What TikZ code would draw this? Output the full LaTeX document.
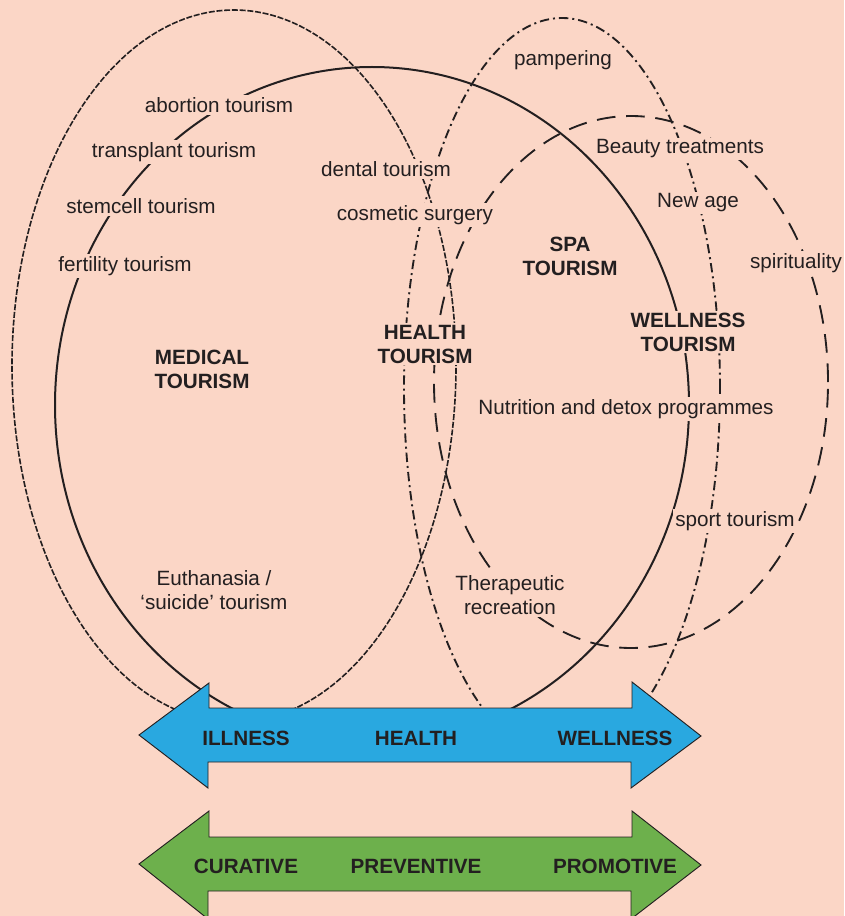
\documentclass[tikz,border=0pt]{standalone}
\usepackage{fontspec}
\setmainfont{Liberation Sans}
\definecolor{bgpeach}{RGB}{251,214,198}
\definecolor{inkdark}{RGB}{35,31,32}
\definecolor{arrowblue}{RGB}{41,168,224}
\definecolor{arrowgreen}{RGB}{109,176,76}
\tikzset{
  lbl/.style={fill=bgpeach, text=inkdark, inner sep=1.5pt, align=center,
    font=\fontsize{15.5}{18}\selectfont},
  blbl/.style={lbl, font=\fontsize{15.5}{18}\selectfont\bfseries},
  alabel/.style={text=inkdark, inner sep=0pt, font=\fontsize{15.5}{18}\selectfont\bfseries},
  medring/.style={draw=inkdark, line width=1.2pt, dash pattern=on 4.5pt off 1.3pt},
  healthring/.style={draw=inkdark, line width=1.5pt},
  wellring/.style={draw=inkdark, line width=1.4pt, dash pattern=on 7pt off 3pt on 1.5pt off 3pt},
  sparing/.style={draw=inkdark, line width=1.4pt, dash pattern=on 14pt off 8pt},
  bigarrow/.style={draw=inkdark, line width=0.7pt, line join=miter},
}
\begin{document}
\begin{tikzpicture}[x=0.75pt, y=-0.75pt]
  \fill[bgpeach] (0,0) rectangle (844,916);
  \useasboundingbox (0,0) rectangle (844,916);
  \clip (0,0) rectangle (844,916);

  % overlapping fields
  \draw[medring]    (234,366) ellipse [x radius=166.5pt, y radius=267pt];
  \draw[healthring] (372,405) ellipse [x radius=237.75pt, y radius=253.5pt];
  \draw[wellring]   (562,388) ellipse [x radius=118.5pt, y radius=277.5pt];
  \draw[sparing]    (631,382) ellipse [x radius=147.75pt, y radius=199.5pt];

  % activities
  \node[lbl] (pamp)   at (563,60)  {pampering};
  \node[lbl] (abort)  at (219,105) {abortion tourism};
  \node[lbl] (transp) at (174,152) {transplant tourism};
  \node[lbl] (stem)   at (141,206) {stemcell tourism};
  \node[lbl] (fert)   at (125,266) {fertility tourism};
  \node[lbl] (dental) at (386,169) {dental tourism};
  \node[lbl] (cosm)   at (415,215) {cosmetic surgery};
  \node[lbl] (beauty) at (680,149) {Beauty treatments};
  \node[lbl] (newage) at (698,203) {New age};
  \node[lbl] (spirit) at (796,263) {spirituality};
  \node[lbl] (nutri)  at (626,409) {Nutrition and detox programmes};
  \node[lbl] (sport)  at (735,521) {sport tourism};
  \node[lbl] (euth)   at (214,590) {Euthanasia /\\‘suicide’ tourism};
  \node[lbl] (thera)  at (510,595) {Therapeutic\\recreation};

  % field names
  \node[blbl] (spa)      at (570,256) {SPA\\TOURISM};
  \node[blbl] (health)   at (425,344) {HEALTH\\TOURISM};
  \node[blbl] (wellness) at (688,332) {WELLNESS\\TOURISM};
  \node[blbl] (medical)  at (202,369) {MEDICAL\\TOURISM};

  % continuum arrows
  \draw[bigarrow, fill=arrowblue]
    (139,735) -- (209,683) -- (209,708) -- (632,708) -- (632,682) -- (701,736)
    -- (631,788) -- (631,762) -- (208,762) -- (208,788) -- cycle;
  \draw[bigarrow, fill=arrowgreen]
    (139,864) -- (209,811) -- (209,837) -- (632,837) -- (632,811) -- (701,865)
    -- (631,919) -- (631,891) -- (208,891) -- (208,919) -- cycle;

  \node[alabel] (ill)  at (246,738) {ILLNESS};
  \node[alabel] (hlth) at (416,738) {HEALTH};
  \node[alabel] (well) at (615,738) {WELLNESS};
  \node[alabel] (cur)  at (246,866) {CURATIVE};
  \node[alabel] (prev) at (416,866) {PREVENTIVE};
  \node[alabel] (prom) at (615,866) {PROMOTIVE};
\end{tikzpicture}
\end{document}
